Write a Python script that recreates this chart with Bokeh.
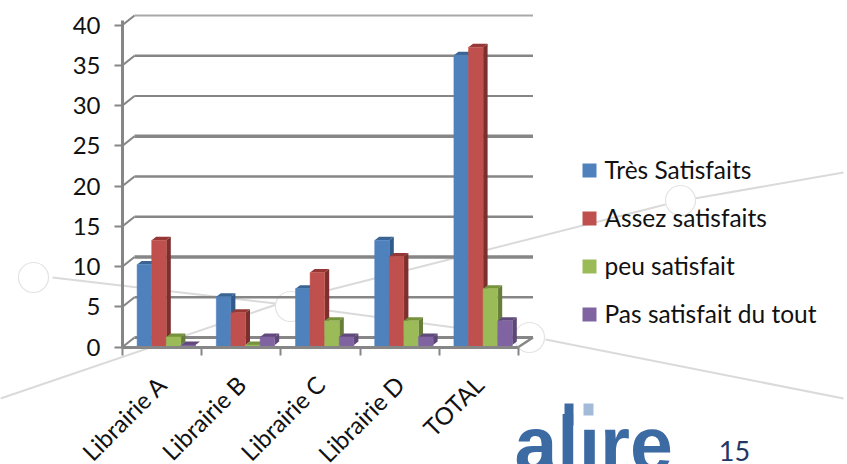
import math
from bokeh.plotting import figure
from bokeh.models import Range1d, LinearAxis, FixedTicker
from bokeh.core.properties import value
from bokeh.embed import file_html
from bokeh.resources import INLINE

categories = ["Librairie A", "Librairie B", "Librairie C", "Librairie D", "TOTAL"]
tres_satisfaits = [10, 6, 7, 13, 36]
assez_satisfaits = [13, 4, 9, 11, 37]
peu_satisfait = [1, 0, 3, 3, 7]
pas_satisfait = [0, 1, 1, 1, 3]
series_names = ["Très Satisfaits", "Assez satisfaits", "peu satisfait", "Pas satisfait du tout"]
y_ticks = [0, 5, 10, 15, 20, 25, 30, 35, 40]

FONT = "Lato"
W, H = 847, 464
X0_PX, Y0_PX = 122.0, 346.5      # page position of the chart origin
CAT_PX, UNIT_PX = 79.2, 8.05     # pixels per category / per value unit

x_range = Range1d(-X0_PX / CAT_PX, (W - X0_PX) / CAT_PX)
y_range = Range1d((Y0_PX - H) / UNIT_PX, Y0_PX / UNIT_PX)

p = figure(width=W, height=H, x_range=x_range, y_range=y_range, x_axis_location=None,
           y_axis_location=None, toolbar_location=None, output_backend="svg",
           min_border=0, outline_line_color=None, background_fill_color="white")
p.grid.visible = False
p.extra_x_ranges["px"] = Range1d(0, W)
p.extra_y_ranges["px"] = Range1d(H, 0)
PX = dict(x_range_name="px", y_range_name="px")

# ---- slide decoration behind the chart
deco_lines = [((0, 276), (398, 304)), ((303, 665), (296, 204)), ((694, 843), (198, 172)),
              ((52, 275), (277, 303)), ((275, 514), (303, 335)), ((545, 843), (339, 398))]
for xs, ys in deco_lines:
    p.line(list(xs), list(ys), line_color="#DADADA", line_width=2, **PX)
p.scatter([33, 290, 529, 680], [277, 306, 337, 200], size=30, marker="circle",
          fill_color="white", line_color="#E3E3E3", line_width=1.2, **PX)

# ---- back wall
DX_WALL, DY_WALL = 12.0 / CAT_PX, 9.5 / UNIT_PX
END_DX = 14.5 / CAT_PX
grid_widths = [3, 2.5, 3.5, 2.5, 2.5, 3.5, 2, 2.5, 2]
grid_colors = ["#868686"] * 8 + ["#A8A8A8"]
for t, lw, c in zip(y_ticks, grid_widths, grid_colors):
    p.line([0, DX_WALL], [t, t + DY_WALL], line_color="#868686", line_width=2.2)
    p.line([DX_WALL, 5 + END_DX], [t + DY_WALL, t + DY_WALL], line_color=c, line_width=lw)
p.line([5, 5 + END_DX], [0, DY_WALL], line_color="#868686", line_width=2.5)

# ---- 3D columns
palette = [("#4F81BD", "#3A6494", "#2F5A8A"), ("#C0504D", "#953735", "#7C2F2D"),
           ("#9BBB59", "#76923C", "#677E3A"), ("#8064A2", "#604A7B", "#5C4776")]
all_series = [tres_satisfaits, assez_satisfaits, peu_satisfait, pas_satisfait]
BAR_W = 14.6 / CAT_PX
GAP = 14.6 / CAT_PX
DX, DY = 4.5 / CAT_PX, 3.5 / UNIT_PX
BASE = 2.0 / UNIT_PX
for c in range(len(categories)):
    for s, vals in enumerate(all_series):
        front, top_c, side_c = palette[s]
        l = c + GAP + s * BAR_W
        r = l + BAR_W
        t = vals[c]
        p.patch([r, r + DX, r + DX, r], [BASE, DY + BASE, t + DY + BASE, t + BASE], color=side_c, line_width=0)
        p.patch([l, l + DX, r + DX, r], [t + BASE, t + DY + BASE, t + DY + BASE, t + BASE], color=top_c, line_width=0)
        p.quad(left=[l], right=[r], bottom=[0], top=[t + BASE], fill_color=front,
               line_color=front, line_width=0.5)

# ---- axes
yax = LinearAxis(ticker=FixedTicker(ticks=y_ticks), fixed_location=0, bounds=(0, 40.5))
yax.axis_line_color = "#868686"
yax.axis_line_width = 3
yax.major_tick_line_color = "#868686"
yax.major_tick_line_width = 2
yax.major_tick_out = 8
yax.major_tick_in = 0
yax.minor_tick_line_color = None
yax.major_label_standoff = 14
yax.major_label_text_font = FONT
yax.major_label_text_font_size = "24px"
yax.major_label_text_color = "#111111"
p.add_layout(yax, "left")

xax = LinearAxis(ticker=FixedTicker(ticks=[0, 1, 2, 3, 4, 5]), fixed_location=0, bounds=(0, 5),
                 major_label_overrides={i: "" for i in range(6)})
xax.axis_line_color = "#868686"
xax.axis_line_width = 3
xax.major_tick_line_color = "#868686"
xax.major_tick_line_width = 2
xax.major_tick_out = 8
xax.major_tick_in = 0
xax.minor_tick_line_color = None
p.add_layout(xax, "below")

centres = [i + 0.5 for i in range(len(categories))]
lab = LinearAxis(ticker=FixedTicker(ticks=centres), fixed_location=0,
                 major_label_overrides=dict(zip(centres, categories)))
lab.axis_line_color = None
lab.major_tick_line_color = None
lab.minor_tick_line_color = None
lab.major_tick_out = 0
lab.major_tick_in = 0
lab.major_label_standoff = 33
lab.major_label_orientation = math.pi / 4
lab.major_label_text_font = FONT
lab.major_label_text_font_size = "24px"
lab.major_label_text_color = "#111111"
p.add_layout(lab, "below")

# ---- legend
legend_y = [170, 218, 266, 314]
for (front, _, _), n, ly in zip(palette, series_names, legend_y):
    p.quad(left=[582], right=[596], top=[ly - 7], bottom=[ly + 7], fill_color=front, line_width=0, **PX)
    p.text([604], [ly - 1], text=[n], text_font=value(FONT), text_font_size="24.5px", text_color="#111111",
           text_baseline="middle", **PX)

# ---- logo and page number
logo_blue = "#3C6AA3"
p.text([514], [443], text=["alıre"], text_font=value("Liberation Sans"), text_font_style=value("bold"),
       text_font_size="77px", text_color=logo_blue, text_baseline="middle", **PX)
p.quad(left=[564], right=[573], top=[403], bottom=[425], fill_color=logo_blue, line_width=0, **PX)
p.quad(left=[583], right=[593], top=[403], bottom=[415], fill_color="#A3BBD8", line_width=0, **PX)
p.text([734], [450], text=["15"], text_font=value(FONT), text_font_size="27px", text_color="#1F3864",
       text_align="center", text_baseline="middle", **PX)

open("out.html", "w").write(file_html(p, INLINE))
